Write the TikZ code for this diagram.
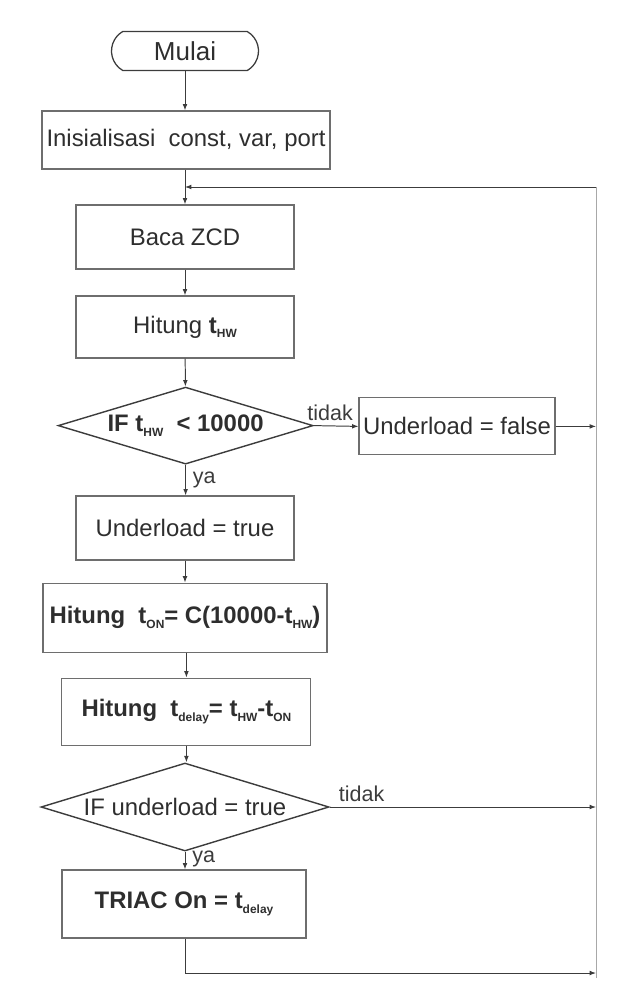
\documentclass[tikz,border=0pt]{standalone}
\usepackage{fontspec}
\setmainfont{Liberation Sans}
\usepackage{xcolor}
\usepackage{tikz}
\usetikzlibrary{shapes.geometric, shapes.misc, arrows.meta, positioning, calc}

\definecolor{linegray}{HTML}{3C3C3C}
\definecolor{boxgray}{HTML}{6E6E6E}
\definecolor{loopgray}{HTML}{A8A8A8}
\definecolor{textgray}{HTML}{2E2E2E}

% subscript of the flowchart labels
\newcommand{\sbs}[1]{\raisebox{-0.35ex}{\fontsize{8.5}{10}\selectfont #1}}

\begin{document}
\begin{tikzpicture}[font=\fontsize{17}{20}\selectfont, text=textgray,
    arr/.style={-{Latex[length=1.6mm, width=1.2mm]}, linegray, line width=0.7pt},
    lbl/.style={font=\fontsize{15.3}{18}\selectfont, inner sep=2pt},
    term/.style={draw=linegray, line width=0.9pt, rounded rectangle,
                 rounded rectangle arc length=120,
                 minimum width=3.675cm, minimum height=0.975cm, inner sep=0pt,
                 font=\fontsize{18.5}{20}\selectfont},
    proc/.style={draw=boxgray, line width=0.8pt, rectangle,
                 minimum height=1.6cm, inner sep=2pt},
    cond/.style={draw=linegray, line width=1pt, diamond, aspect=3.3,
                 inner sep=0pt}]

    \useasboundingbox (0,0) rectangle (15.575,-25.2);

    \node[term] (mulai) at (4.625,-1.275) {Mulai};
    \node[proc, minimum width=7.2cm, minimum height=1.45cm] (init) at (4.65,-3.5)
      {Inisialisasi\ \ const, var, port};
    \node[proc, minimum width=5.45cm] (baca) at (4.625,-5.925) {Baca ZCD};
    \node[proc, minimum width=5.45cm, minimum height=1.55cm] (hitung) at (4.625,-8.175)
      {Hitung \textbf{t\sbs{HW}}};
    \node[cond, minimum width=6.375cm, minimum height=1.925cm] (if1) at (4.64,-10.64)
      {\textbf{IF t\sbs{HW}\ \ < 10000}};
    \node[proc, minimum width=4.9cm, minimum height=1.425cm] (ufalse) at (11.425,-10.66)
      {Underload = false};
    \node[proc, minimum width=5.45cm] (utrue) at (4.625,-13.2) {Underload = true};
    \node[proc, minimum width=7.1cm, minimum height=1.725cm] (ton) at (4.625,-15.44)
      {\textbf{Hitung\ \ t\sbs{ON}= C(10000-t\sbs{HW})}};
    \node[proc, minimum width=6.225cm, minimum height=1.675cm] (tdelay) at (4.66,-17.79)
      {\textbf{Hitung\ \ t\sbs{delay}= t\sbs{HW}-t\sbs{ON}}};
    \node[cond, minimum width=7.2cm, minimum height=2.2cm] (if2) at (4.625,-20.175)
      {IF underload = true};
    \node[proc, minimum width=6.1cm, minimum height=1.7cm] (triac) at (4.6,-22.6)
      {\textbf{TRIAC On = t\sbs{delay}}};

    % return line on the right
    \coordinate (rtop) at (14.9,-4.675);
    \coordinate (rbot) at (14.9,-24.325);
    \coordinate (rend) at (14.9,-24.45);

    \draw[arr] (mulai.south) -- (mulai.south |- init.north);
    \draw[arr] (init.south -| baca.north) -- (baca.north);
    \draw[arr] (baca) -- (hitung);
    \draw[arr] (hitung) -- (if1);
    \draw[arr] (if1.east) -- node[lbl, above, xshift=-0.15cm, yshift=0.05cm]{tidak} (ufalse.west);
    \draw[arr] (ufalse.east) -- (ufalse.east -| rtop);
    \draw[arr] (if1.south) -- node[lbl, right, xshift=0.1cm]{ya} (if1.south |- utrue.north);
    \draw[arr] (utrue) -- (ton);
    \draw[arr] (ton.south -| tdelay.north) -- (tdelay.north);
    \draw[arr] (tdelay.south) -- (tdelay.south |- if2.north);
    \draw[arr] (if2.east) -- node[lbl, above, pos=0.12, yshift=0.05cm]{tidak} (if2.east -| rtop);
    \draw[arr] (if2.south) -- node[lbl, right, xshift=0.1cm, yshift=0.05cm]{ya} (if2.south |- triac.north);
    \draw[arr] (triac.south -| if2.south) |- (rbot);

    \draw[loopgray, line width=0.6pt] (rend) -- (rtop);
    \draw[arr] (rtop) -- (rtop -| baca.north);
  \end{tikzpicture}
\end{document}
